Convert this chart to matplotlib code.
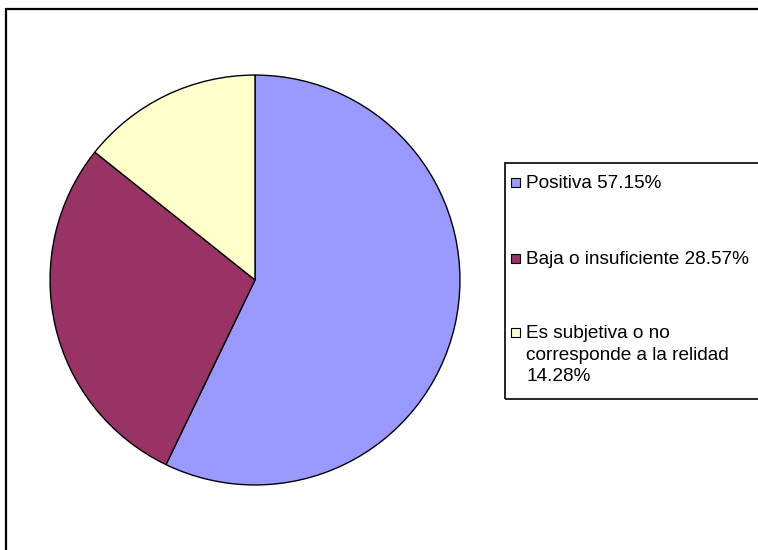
import matplotlib.pyplot as plt
from matplotlib.patches import Rectangle

plt.rcParams['font.family'] = ['Liberation Sans', 'DejaVu Sans']

labels = ['Positiva 57.15%', 'Baja o insuficiente 28.57%',
          'Es subjetiva o no\ncorresponde a la relidad\n14.28%']
values = [57.15, 28.57, 14.28]
colors = ['#9999FF', '#993366', '#FFFFCC']

W, H = 758, 550
fig = plt.figure(figsize=(W / 100, H / 100), dpi=100)

def fx(px):
    return px / W

def fy(py):
    return 1 - py / H

# outer chart border (right/bottom edges run off the image)
fig.patches.append(Rectangle((fx(6), fy(560)), fx(800), 551 / H, transform=fig.transFigure,
                             fill=False, edgecolor='black', linewidth=1.6))

# pie
cx, cy, r = 255, 280, 205
ax = fig.add_axes([fx(cx - r - 2), fy(cy + r + 2), (2 * r + 4) / W, (2 * r + 4) / H])
ax.pie(values, colors=colors, startangle=90, counterclock=False, radius=1,
       wedgeprops=dict(edgecolor='black', linewidth=1))
ax.set_xlim(-1.01, 1.01)
ax.set_ylim(-1.01, 1.01)
ax.set_aspect('equal')
ax.axis('off')

# legend box
fig.patches.append(Rectangle((fx(505), fy(399)), fx(300), (399 - 163) / H, transform=fig.transFigure,
                             fill=False, edgecolor='black', linewidth=1.2))
baselines = [188, 264, 338]
for lab, col, yb in zip(labels, colors, baselines):
    fig.patches.append(Rectangle((fx(511), fy(yb - 1)), 9 / W, 9 / H, transform=fig.transFigure,
                                 facecolor=col, edgecolor='black', linewidth=0.8))
    for i, line in enumerate(lab.split('\n')):
        fig.text(fx(526), fy(yb + i * 21.7), line, ha='left', va='baseline', fontsize=13.7)

fig.savefig('out.png', dpi=100)
